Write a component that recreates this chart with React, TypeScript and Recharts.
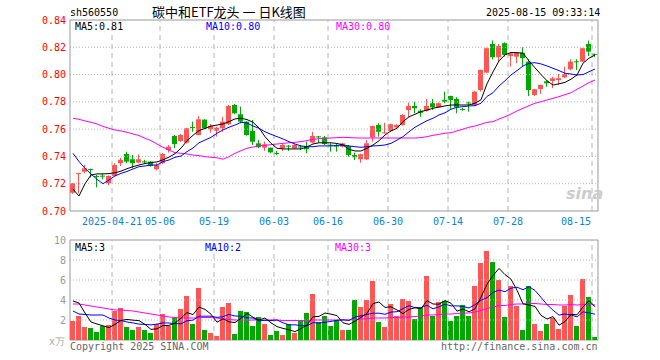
import { ComposedChart, Bar, Line, XAxis, YAxis, ReferenceLine, ReferenceArea } from 'recharts';

// trading days shown in the chart
const dates = [
	'2025-04-10', '2025-04-11', '2025-04-14', '2025-04-15', '2025-04-16', '2025-04-17', '2025-04-18', '2025-04-21', '2025-04-22', '2025-04-23',
	'2025-04-24', '2025-04-25', '2025-04-28', '2025-04-29', '2025-04-30', '2025-05-06', '2025-05-07', '2025-05-08', '2025-05-09', '2025-05-12',
	'2025-05-13', '2025-05-14', '2025-05-15', '2025-05-16', '2025-05-19', '2025-05-20', '2025-05-21', '2025-05-22', '2025-05-23', '2025-05-26',
	'2025-05-27', '2025-05-28', '2025-05-29', '2025-05-30', '2025-06-03', '2025-06-04', '2025-06-05', '2025-06-06', '2025-06-09', '2025-06-10',
	'2025-06-11', '2025-06-12', '2025-06-13', '2025-06-16', '2025-06-17', '2025-06-18', '2025-06-19', '2025-06-20', '2025-06-23', '2025-06-24',
	'2025-06-25', '2025-06-26', '2025-06-27', '2025-06-30', '2025-07-01', '2025-07-02', '2025-07-03', '2025-07-04', '2025-07-07', '2025-07-08',
	'2025-07-09', '2025-07-10', '2025-07-11', '2025-07-14', '2025-07-15', '2025-07-16', '2025-07-17', '2025-07-18', '2025-07-21', '2025-07-22',
	'2025-07-23', '2025-07-24', '2025-07-25', '2025-07-28', '2025-07-29', '2025-07-30', '2025-07-31', '2025-08-01', '2025-08-04', '2025-08-05',
	'2025-08-06', '2025-08-07', '2025-08-08', '2025-08-11', '2025-08-12', '2025-08-13', '2025-08-14', '2025-08-15',
];

const axisDates = ['2025-04-21', '2025-05-06', '2025-05-19', '2025-06-03', '2025-06-16', '2025-06-30', '2025-07-14', '2025-07-28', '2025-08-15'];

const openPx = [
	0.7134, 0.7272, 0.7288, 0.7308, 0.7257, 0.7259, 0.7203, 0.7257, 0.735, 0.7418,
	0.7379, 0.7355, 0.7364, 0.7362, 0.7306, 0.735, 0.7447, 0.755, 0.7513, 0.7501,
	0.7616, 0.7557, 0.767, 0.7599, 0.7589, 0.7606, 0.7636, 0.7777, 0.7709, 0.7655,
	0.7587, 0.7496, 0.7464, 0.7464, 0.7425, 0.746, 0.7479, 0.746, 0.7473, 0.7477,
	0.7501, 0.7547, 0.754, 0.7486, 0.7479, 0.7471, 0.7477, 0.741, 0.7379, 0.7379,
	0.754, 0.763, 0.7572, 0.7587, 0.7614, 0.763, 0.774, 0.777, 0.7735, 0.7735,
	0.779, 0.776, 0.7814, 0.7843, 0.7821, 0.7748, 0.7796, 0.7777, 0.7887, 0.8014,
	0.8224, 0.8127, 0.823, 0.8136, 0.8131, 0.816, 0.8095, 0.785, 0.7894, 0.795,
	0.7953, 0.796, 0.798, 0.8039, 0.8097, 0.8095, 0.8224, 0.8152,
];
const highPx = [
	0.7205, 0.728, 0.7337, 0.731, 0.7264, 0.7276, 0.726, 0.735, 0.739, 0.7435,
	0.741, 0.7415, 0.7375, 0.7365, 0.735, 0.7425, 0.7484, 0.7557, 0.7565, 0.761,
	0.7655, 0.7696, 0.7672, 0.7638, 0.7618, 0.7691, 0.7777, 0.7785, 0.7765, 0.7658,
	0.7667, 0.752, 0.7508, 0.7466, 0.744, 0.7496, 0.7484, 0.749, 0.7484, 0.7508,
	0.7581, 0.755, 0.755, 0.7496, 0.7491, 0.75, 0.748, 0.7428, 0.742, 0.752,
	0.7625, 0.7643, 0.7647, 0.764, 0.7636, 0.771, 0.7794, 0.7801, 0.7746, 0.7821,
	0.7821, 0.7795, 0.7875, 0.7845, 0.7834, 0.7755, 0.7801, 0.788, 0.8036, 0.8198,
	0.8249, 0.8224, 0.8236, 0.8163, 0.8165, 0.82, 0.8112, 0.7895, 0.7926, 0.796,
	0.7985, 0.8004, 0.8058, 0.8112, 0.8112, 0.8195, 0.8249, 0.8153,
];
const lowPx = [
	0.7127, 0.713, 0.7276, 0.7245, 0.7174, 0.7232, 0.719, 0.7255, 0.733, 0.735,
	0.7313, 0.735, 0.7345, 0.7325, 0.7298, 0.7345, 0.7428, 0.746, 0.7505, 0.7495,
	0.7581, 0.7555, 0.76, 0.7574, 0.7545, 0.7581, 0.763, 0.771, 0.7643, 0.7552,
	0.7484, 0.746, 0.744, 0.7423, 0.741, 0.744, 0.744, 0.7455, 0.7447, 0.7423,
	0.7496, 0.7501, 0.7484, 0.7435, 0.7435, 0.7465, 0.7398, 0.7374, 0.7354, 0.7374,
	0.7508, 0.7545, 0.7567, 0.758, 0.7606, 0.7625, 0.769, 0.7716, 0.769, 0.7728,
	0.774, 0.7755, 0.779, 0.774, 0.7716, 0.7735, 0.7728, 0.777, 0.7875, 0.801,
	0.8112, 0.8095, 0.8132, 0.8058, 0.8083, 0.8063, 0.7843, 0.7843, 0.7858, 0.7911,
	0.79, 0.7924, 0.7975, 0.803, 0.8034, 0.8093, 0.8136, 0.8128,
];
const closePx = [
	0.7203, 0.7278, 0.7313, 0.7303, 0.7253, 0.7255, 0.7257, 0.7337, 0.7375, 0.7362,
	0.735, 0.7379, 0.736, 0.733, 0.7337, 0.7418, 0.7471, 0.7491, 0.7557, 0.7606,
	0.7612, 0.7672, 0.7606, 0.7623, 0.7611, 0.7655, 0.777, 0.7716, 0.7655, 0.7557,
	0.7508, 0.7467, 0.7489, 0.743, 0.7421, 0.7484, 0.7475, 0.7484, 0.747, 0.7452,
	0.755, 0.7543, 0.7491, 0.7482, 0.7475, 0.7496, 0.741, 0.7394, 0.7416, 0.7496,
	0.7623, 0.7581, 0.7576, 0.7636, 0.763, 0.7704, 0.777, 0.7753, 0.772, 0.777,
	0.776, 0.779, 0.7801, 0.7814, 0.776, 0.7744, 0.7792, 0.7875, 0.8034, 0.8193,
	0.8127, 0.821, 0.8144, 0.8156, 0.8163, 0.812, 0.7887, 0.7892, 0.7924, 0.7936,
	0.7973, 0.7973, 0.8004, 0.8095, 0.8093, 0.8193, 0.8168, 0.8148,
];

const priceMa5 = [
	0.716, 0.711, 0.72, 0.7264, 0.7272, 0.7272, 0.7274, 0.728, 0.7292, 0.731,
	0.7325, 0.7337, 0.7348, 0.7355, 0.736, 0.7375, 0.7395, 0.742, 0.746, 0.7515,
	0.7555, 0.759, 0.7605, 0.7623, 0.763, 0.7638, 0.7655, 0.7675, 0.768, 0.767,
	0.765, 0.761, 0.7545, 0.7496, 0.746, 0.7455, 0.7455, 0.7455, 0.7455, 0.747,
	0.7491, 0.75, 0.75, 0.75, 0.7495, 0.7484, 0.7452, 0.744, 0.744, 0.746,
	0.7484, 0.7515, 0.7557, 0.7587, 0.7606, 0.7655, 0.769, 0.7709, 0.7728, 0.774,
	0.7753, 0.7762, 0.777, 0.7777, 0.7777, 0.7777, 0.7777, 0.779, 0.7815, 0.7932,
	0.802, 0.81, 0.8145, 0.8162, 0.816, 0.8157, 0.81, 0.805, 0.8, 0.7955,
	0.7923, 0.7932, 0.7943, 0.7966, 0.7997, 0.8083, 0.812, 0.8144,
];
const priceMa10 = [
	0.7423, 0.7362, 0.7313, 0.7271, 0.7232, 0.72, 0.7227, 0.7257, 0.7276, 0.729,
	0.7308, 0.7325, 0.733, 0.7337, 0.7337, 0.7362, 0.7374, 0.7394, 0.7403, 0.7435,
	0.7462, 0.75, 0.752, 0.754, 0.757, 0.7594, 0.7614, 0.763, 0.765, 0.7645,
	0.7623, 0.7606, 0.7581, 0.7562, 0.7545, 0.7528, 0.7508, 0.7491, 0.7477, 0.7471,
	0.7471, 0.7477, 0.7477, 0.7477, 0.748, 0.7484, 0.7477, 0.7471, 0.7467, 0.7471,
	0.7477, 0.7479, 0.7484, 0.7496, 0.752, 0.7545, 0.7581, 0.7614, 0.7638, 0.7662,
	0.768, 0.7704, 0.772, 0.7746, 0.776, 0.7765, 0.777, 0.7772, 0.779, 0.784,
	0.7867, 0.7916, 0.7955, 0.7997, 0.8029, 0.8063, 0.8083, 0.8087, 0.8078, 0.8063,
	0.8046, 0.8029, 0.801, 0.8004, 0.7997, 0.8, 0.8021, 0.8041,
];
const priceMa30 = [
	0.768, 0.7672, 0.766, 0.765, 0.7638, 0.762, 0.7606, 0.7594, 0.7587, 0.7577,
	0.7565, 0.7553, 0.7533, 0.7516, 0.7491, 0.7467, 0.7447, 0.7427, 0.7423, 0.7418,
	0.741, 0.7406, 0.7398, 0.7394, 0.739, 0.738, 0.7398, 0.7423, 0.7442, 0.746,
	0.7469, 0.7477, 0.7481, 0.7486, 0.7491, 0.7496, 0.75, 0.7504, 0.7508, 0.7516,
	0.7526, 0.753, 0.7533, 0.7535, 0.7538, 0.754, 0.7538, 0.7536, 0.7535, 0.7535,
	0.7535, 0.7535, 0.7535, 0.7535, 0.7535, 0.7535, 0.7535, 0.7535, 0.7538, 0.7545,
	0.7555, 0.7562, 0.757, 0.7574, 0.7587, 0.76, 0.7614, 0.7623, 0.7636, 0.765,
	0.7655, 0.7674, 0.7691, 0.7711, 0.7733, 0.7753, 0.7772, 0.779, 0.7801, 0.7814,
	0.7826, 0.7838, 0.7853, 0.7867, 0.7892, 0.7916, 0.7941, 0.796,
];

// volume, in 万
const volume = [
	1.9, 2.4, 1.3, 1.2, 0.8, 1.4, 1.5, 2.9, 3.2, 1.3,
	1.0, 1.3, 1.0, 0.7, 1.6, 2.6, 1.4, 2.2, 3.1, 4.4,
	1.6, 5.2, 1.0, 0.7, 0.4, 3.3, 3.7, 0.6, 2.9, 2.8,
	1.4, 2.3, 1.6, 0.5, 0.9, 0.5, 1.6, 0.7, 2.0, 2.7,
	4.6, 1.8, 2.4, 1.4, 2.0, 1.0, 1.0, 4.0, 3.3, 4.0,
	5.9, 1.8, 1.3, 3.6, 2.4, 4.1, 3.9, 2.1, 3.2, 6.4,
	2.4, 3.8, 3.9, 1.9, 2.4, 3.5, 2.4, 5.4, 7.7, 8.9,
	7.8, 6.0, 2.3, 5.4, 3.4, 1.0, 5.4, 1.6, 0.9, 1.6,
	2.2, 1.1, 3.4, 4.5, 1.4, 6.1, 4.3, 0.3,
];
const volMa5 = [
	3.9, 3.7, 2.7, 1.8, 1.6, 1.42, 1.24, 1.56, 1.96, 2.06,
	1.98, 1.94, 1.56, 1.06, 1.12, 1.44, 1.46, 1.7, 2.18, 2.74,
	2.54, 3.3, 3.06, 2.58, 1.78, 2.12, 1.82, 1.74, 2.18, 2.66,
	2.28, 2.0, 2.2, 1.72, 1.34, 1.16, 1.02, 0.84, 1.14, 1.5,
	2.32, 2.36, 2.7, 2.58, 2.44, 1.72, 1.56, 1.88, 2.26, 2.66,
	3.64, 3.8, 3.26, 3.32, 3.0, 2.64, 3.06, 3.22, 3.14, 3.94,
	3.6, 3.58, 3.94, 3.68, 2.88, 3.1, 2.82, 3.12, 4.28, 5.58,
	6.44, 7.16, 6.54, 6.08, 4.98, 3.62, 3.5, 3.36, 2.46, 2.1,
	2.34, 1.48, 1.84, 2.56, 2.52, 3.3, 3.94, 3.32,
];
const volMa10 = [
	2.9, 2.6, 2.55, 2.5, 2.5, 2.5, 2.2, 2.0, 1.95, 1.8,
	1.71, 1.59, 1.56, 1.51, 1.59, 1.71, 1.7, 1.63, 1.62, 1.93,
	1.99, 2.38, 2.38, 2.38, 2.26, 2.33, 2.56, 2.4, 2.38, 2.22,
	2.2, 1.91, 1.97, 1.95, 2.0, 1.72, 1.51, 1.52, 1.43, 1.42,
	1.74, 1.69, 1.77, 1.86, 1.97, 2.02, 1.96, 2.29, 2.42, 2.55,
	2.68, 2.68, 2.57, 2.79, 2.83, 3.14, 3.43, 3.24, 3.23, 3.47,
	3.12, 3.32, 3.58, 3.41, 3.41, 3.35, 3.2, 3.53, 3.98, 4.23,
	4.77, 4.99, 4.83, 5.18, 5.28, 5.03, 5.33, 4.95, 4.27, 3.54,
	2.98, 2.49, 2.6, 2.51, 2.31, 2.82, 2.71, 2.58,
];
const volMa30 = [
	3.6, 3.6, 3.5, 3.4, 3.3, 3.2, 3.1, 3.0, 3.0, 2.95,
	2.9, 2.8, 2.7, 2.6, 2.5, 2.4, 2.3, 2.25, 2.2, 2.2,
	2.2, 2.25, 2.25, 2.25, 2.2, 2.1, 2.05, 2.0, 2.0, 1.98,
	2.0, 2.0, 2.0, 2.0, 2.0, 1.95, 1.95, 1.95, 1.95, 1.95,
	2.0, 2.0, 2.0, 2.0, 2.0, 2.0, 2.0, 2.05, 2.1, 2.1,
	2.2, 2.2, 2.2, 2.25, 2.25, 2.3, 2.3, 2.35, 2.4, 2.5,
	2.5, 2.55, 2.6, 2.6, 2.65, 2.7, 2.7, 2.8, 2.95, 3.15,
	3.3, 3.45, 3.45, 3.55, 3.6, 3.6, 3.65, 3.65, 3.6, 3.55,
	3.55, 3.5, 3.5, 3.55, 3.5, 3.55, 3.55, 3.5,
];

const priceTicks = [0.7, 0.72, 0.74, 0.76, 0.78, 0.8, 0.82, 0.84];
const volTicks = [2, 4, 6, 8, 10];

const RED = '#ff5555';
const GREEN = '#00a800';
const MONO = "'DejaVu Sans Mono', monospace";
const GRID = '#b4b4b4';
const FRAME = '#999999';

const rows = dates.map((d, i) => ({
	pos: i + 0.5,
	date: d,
	open: openPx[i],
	high: highPx[i],
	low: lowPx[i],
	close: closePx[i],
	ma5: priceMa5[i],
	ma10: priceMa10[i],
	ma30: priceMa30[i],
	vol: volume[i],
	vma5: volMa5[i],
	vma10: volMa10[i],
	vma30: volMa30[i],
	up: closePx[i] >= openPx[i],
}));

const tickIdx = axisDates.map((d) => dates.indexOf(d));
const lastIdx = dates.length;

function Candle(props: any) {
	const { x, y, width, height, payload } = props;
	if (x == null || y == null) return null;
	const top = Math.min(y, y + height);
	const h = Math.abs(height);
	const k = payload.high > payload.low ? h / (payload.high - payload.low) : 0;
	const yO = top + (payload.high - payload.open) * k;
	const yC = top + (payload.high - payload.close) * k;
	const color = payload.up ? RED : GREEN;
	const bx = Math.round(x);
	const w = Math.round(width);
	const cx = bx + Math.floor(w / 2) + 0.5;
	const bodyTop = Math.min(yO, yC);
	const bodyH = Math.max(1, Math.abs(yC - yO));
	return (
		<g>
			<line x1={cx} x2={cx} y1={top} y2={top + h} stroke={color} strokeWidth={1} />
			<rect x={bx} y={bodyTop} width={w} height={bodyH} fill={color} />
		</g>
	);
}

function VolBar(props: any) {
	const { x, y, width, height, payload } = props;
	if (x == null || y == null) return null;
	return <rect x={Math.round(x)} y={y} width={Math.round(width)} height={height} fill={payload.up ? RED : GREEN} />;
}

function DateTick(props: any) {
	const { x, y, payload, index } = props;
	const d = dates[payload.value];
	const label = index === 0 ? d : d.slice(5);
	const last = index === tickIdx.length - 1;
	return (
		<text x={last ? x - 1 : x} y={y} dy={8} textAnchor={last ? 'end' : 'middle'} fill="#0a84d0" fontSize={10} fontFamily={MONO}>
			{label}
		</text>
	);
}

const txt = (left: number, top: number, color: string, s: string) => (
	<div
		style={{
			position: 'absolute',
			left,
			top,
			color,
			fontFamily: MONO,
			fontSize: 10,
			lineHeight: '11px',
			whiteSpace: 'nowrap',
		}}
	>
		{s}
	</div>
);

export default function App() {
	return (
		<div style={{ position: 'absolute', left: 0, top: 0, width: 660, height: 360, background: '#fff', overflow: 'hidden' }}>
			<div style={{ position: 'absolute', left: 0, top: 0 }}>
				<ComposedChart width={660} height={231} data={rows} margin={{ top: 20, right: 62, bottom: 0, left: 0 }}>
					<XAxis
						type="number"
						dataKey="pos"
						domain={[0, lastIdx]}
						ticks={tickIdx}
						interval={0}
						height={20}
						axisLine={false}
						tickLine={false}
						tickSize={0}
						tickMargin={6}
						tick={<DateTick />}
					/>
					<YAxis
						domain={[0.7, 0.84]}
						ticks={priceTicks}
						width={70}
						axisLine={false}
						tickLine={false}
						tickSize={0}
						tickMargin={4}
						interval={0}
						tick={{ fill: '#ff0000', fontSize: 10, fontFamily: MONO }}
						tickFormatter={(v: number) => v.toFixed(2)}
					/>
					{priceTicks.slice(1, -1).map((v) => (
						<ReferenceLine key={'h' + v} y={v} stroke={GRID} strokeDasharray="1 2" />
					))}
					{tickIdx.map((t) => (
						<ReferenceLine key={'v' + t} x={t} stroke={GRID} strokeDasharray="5 4" />
					))}
					<Bar dataKey={(d: any) => [d.low, d.high]} barSize={5} shape={<Candle />} isAnimationActive={false} />
					<Line dataKey="ma30" stroke="#ff00ff" strokeWidth={1} dot={false} isAnimationActive={false} />
					<Line dataKey="ma10" stroke="#0000ff" strokeWidth={1} dot={false} isAnimationActive={false} />
					<Line dataKey="ma5" stroke="#000000" strokeWidth={1} dot={false} isAnimationActive={false} />
					<ReferenceArea x1={0} x2={lastIdx} y1={0.7} y2={0.84} fill="none" fillOpacity={0} stroke={FRAME} strokeWidth={1} />
				</ComposedChart>
			</div>
			<div style={{ position: 'absolute', left: 0, top: 230 }}>
				<ComposedChart width={660} height={120} data={rows} margin={{ top: 10, right: 62, bottom: 10, left: 0 }}>
					<XAxis type="number" dataKey="pos" domain={[0, lastIdx]} ticks={tickIdx} hide />
					<YAxis
						domain={[0, 10]}
						ticks={volTicks}
						width={70}
						axisLine={false}
						tickLine={false}
						tickSize={0}
						tickMargin={4}
						interval={0}
						tick={{ fill: '#999999', fontSize: 10, fontFamily: MONO }}
					/>
					{volTicks.slice(0, -1).map((v) => (
						<ReferenceLine key={'vh' + v} y={v} stroke={GRID} strokeDasharray="1 2" />
					))}
					{tickIdx.map((t) => (
						<ReferenceLine key={'vv' + t} x={t} stroke={GRID} strokeDasharray="5 4" />
					))}
					<Bar dataKey="vol" barSize={5} shape={<VolBar />} isAnimationActive={false} />
					<Line dataKey="vma30" stroke="#ff00ff" strokeWidth={1} dot={false} isAnimationActive={false} />
					<Line dataKey="vma10" stroke="#0000ff" strokeWidth={1} dot={false} isAnimationActive={false} />
					<Line dataKey="vma5" stroke="#000000" strokeWidth={1} dot={false} isAnimationActive={false} />
					<ReferenceArea x1={0} x2={lastIdx} y1={0} y2={10} fill="none" fillOpacity={0} stroke={FRAME} strokeWidth={1} />
				</ComposedChart>
			</div>

			{txt(70, 7, '#000', 'sh560550')}
			<div
				style={{
					position: 'absolute',
					left: 152,
					top: 5,
					fontFamily: "'Noto Sans CJK SC', sans-serif",
					fontSize: 13,
					lineHeight: '14px',
					color: '#000',
					whiteSpace: 'pre',
				}}
			>
				碳中和ETF龙头 一 日K线图
			</div>
			{txt(486, 7, '#000', '2025-08-15 09:33:14')}

			{txt(75, 21, '#000', 'MA5:0.81')}
			{txt(206, 21, '#0000ff', 'MA10:0.80')}
			{txt(336, 21, '#ff00ff', 'MA30:0.80')}

			{txt(75, 242, '#000', 'MA5:3')}
			{txt(205, 242, '#0000ff', 'MA10:2')}
			{txt(335, 242, '#ff00ff', 'MA30:3')}

			{txt(49, 336, '#aaaaaa', 'x万')}
			{txt(70, 341, '#666666', 'Copyright 2025 SINA.COM')}
			{txt(441, 341, '#666666', 'http://finance.sina.com.cn')}

			<div
				style={{
					position: 'absolute',
					left: 566,
					top: 185,
					fontFamily: "'DejaVu Sans', sans-serif",
					fontSize: 16,
					fontWeight: 'bold',
					fontStyle: 'italic',
					color: '#cccccc',
					lineHeight: '18px',
				}}
			>
				sina
			</div>
		</div>
	);
}
